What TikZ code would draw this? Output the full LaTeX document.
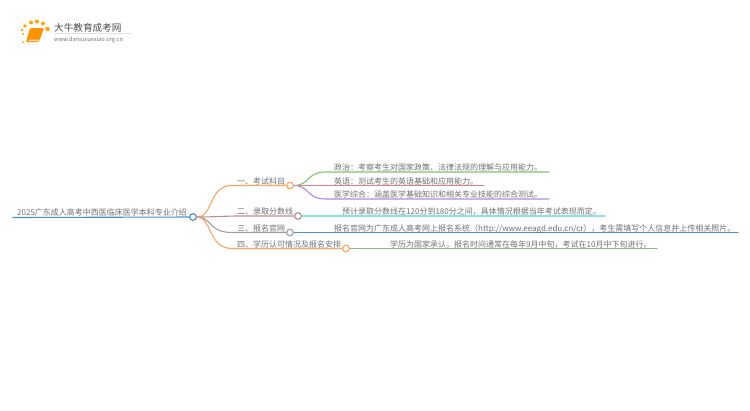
\documentclass[tikz,border=0pt]{standalone}
\usepackage{fontspec}
\setmainfont{Noto Sans CJK SC}[Scale=1]
\definecolor{txt}{HTML}{707070}
\definecolor{cblue}{HTML}{4A90C8}
\definecolor{corange}{HTML}{FFA45C}
\definecolor{cbrown}{HTML}{B8918A}
\definecolor{cgray}{HTML}{A0A0A0}
\definecolor{cgreen}{HTML}{7CC46C}
\definecolor{cred}{HTML}{E57F7F}
\definecolor{cpurple}{HTML}{B08AD8}
\definecolor{ccyan}{HTML}{8CE0E8}
\tikzset{
  lab/.style={anchor=base west,inner sep=0pt,text=txt,font=\fontsize{8}{8}\selectfont},
  dot/.style={circle,draw=#1,fill=white,line width=1pt,minimum size=6.5pt,inner sep=0pt},
  wire/.style={line width=1.1pt,line cap=round},
}
\begin{document}
\begin{tikzpicture}[x=1pt,y=-1pt]
\useasboundingbox (0,0) rectangle (750,410);
% logo
\foreach \px/\py/\r in {23/34/1.2,22/30/1.4,25/26/1.8,31/22.5/2,37/21.5/2,43/23.5/2,47.5/29/2.3,23/42/1}
  \fill[orange!70!yellow] (\px,\py) circle (\r);
\fill[orange!85!yellow,rounded corners=1pt] (30,28) -- (44,28) -- (39,42) -- (26,42) -- cycle;
\fill[white!70!orange] (29,39.5) -- (39.5,39.5) -- (39,41) -- (28.5,41) -- cycle;
\node[lab,font=\fontsize{9.6}{9}\selectfont,text=black!70] (brand) at (54,31) {大牛教育成考网};
\node[lab,font=\fontsize{5.7}{6}\selectfont,text=black!55] (site) at (54,41) {www.daniuxuexiao.org.cn};
\draw[black!12,line width=.5pt] (54,33.5) -- (132,33.5);
% coordinates
\node[dot=cblue] (root) at (193,217) {};
\node[dot=corange] (n1) at (290,185.5) {};
\node[dot=cbrown] (n2) at (298,216) {};
\node[dot=cgray] (n3) at (290,232.5) {};
\node[dot=corange] (n4) at (346,248.5) {};
\coordinate (rs) at (13,217.5);
\coordinate (l1) at (549,172);
\coordinate (l2) at (484,185.5);
\coordinate (l3) at (549,199);
\coordinate (l4) at (605,216);
\coordinate (l5) at (738,232.5);
\coordinate (l6) at (657,248.5);
% wires
\draw[wire,cblue] (rs) -- (root);
\draw[wire,corange] (root) .. controls (214,217) and (208,185.5) .. (232,185.5) -- (n1);
\draw[wire,cbrown] (root) .. controls (215,217) and (225,216) .. (240,216) -- (n2);
\draw[wire,cgray] (root) .. controls (212,217) and (208,232.5) .. (232,232.5) -- (n3);
\draw[wire,corange] (root) .. controls (212,217) and (208,248.5) .. (232,248.5) -- (n4);
\draw[wire,cgreen] (n1) .. controls (310,185.5) and (306,172) .. (326,172) -- (l1);
\draw[wire,cred] (n1) -- (l2);
\draw[wire,cpurple] (n1) .. controls (310,185.5) and (306,199) .. (326,199) -- (l3);
\draw[wire,ccyan] (n2) -- (l4);
\draw[wire,cblue] (n3) -- (l5);
\draw[wire,cgreen] (n4) -- (l6);
\node[dot=cblue] at (root) {};
\node[dot=corange] at (n1) {};
\node[dot=cbrown] at (n2) {};
\node[dot=cgray] at (n3) {};
\node[dot=corange] at (n4) {};
% labels
\node[lab] (t0) at (17,215) {2025广东成人高考中西医临床医学本科专业介绍};
\node[lab] (t1) at (237,184) {一、考试科目};
\node[lab] (t2) at (237,214.5) {二、录取分数线};
\node[lab] (t3) at (237,231) {三、报名官网};
\node[lab] (t4) at (237,247) {四、学历认可情况及报名安排};
\node[lab] (a1) at (334,170.5) {政治：考察考生对国家政策、法律法规的理解与应用能力。};
\node[lab] (a2) at (334,184) {英语：测试考生的英语基础和应用能力。};
\node[lab] (a3) at (334,197.5) {医学综合：涵盖医学基础知识和相关专业技能的综合测试。};
\node[lab] (a4) at (342,214.5) {预计录取分数线在120分到180分之间，具体情况根据当年考试表现而定。};
\node[lab] (a5) at (334,231) {报名官网为广东成人高考网上报名系统（http://www.eeagd.edu.cn/cr），考生需填写个人信息并上传相关照片。};
\node[lab] (a6) at (390,247) {学历为国家承认，报名时间通常在每年9月中旬，考试在10月中下旬进行。};
\end{tikzpicture}
\end{document}
